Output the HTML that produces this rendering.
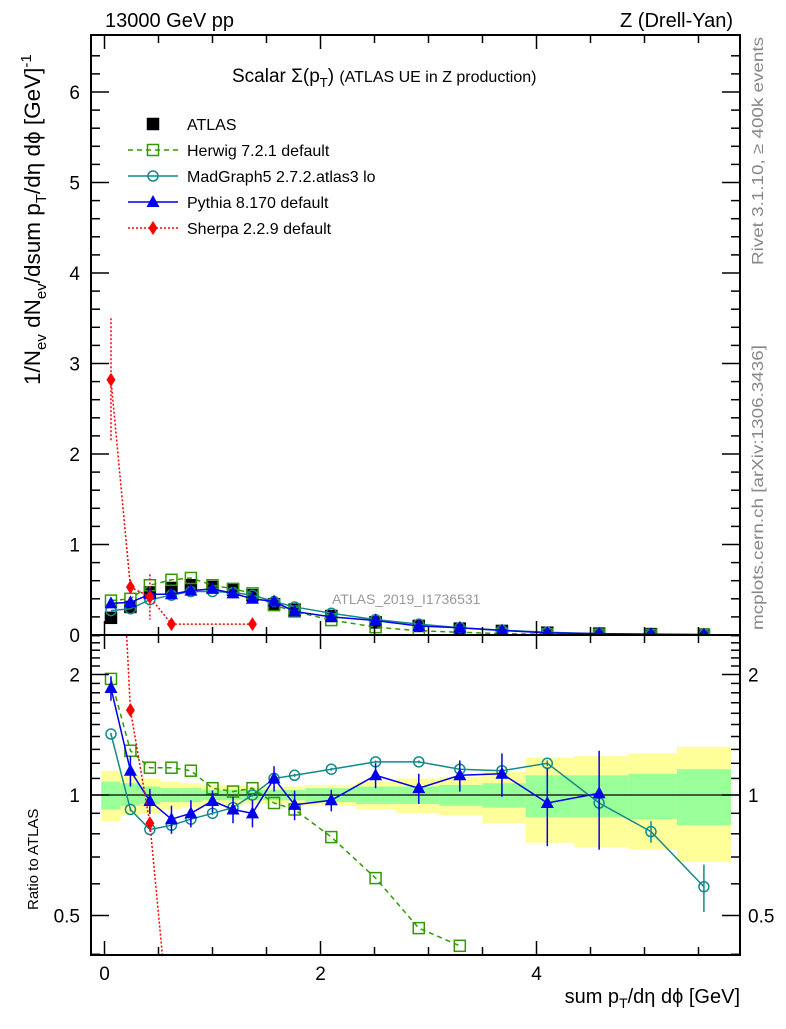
<!DOCTYPE html>
<html><head><meta charset="utf-8"><style>
body{margin:0;background:#fff;}
svg{font-family:"Liberation Sans",sans-serif;}
</style></head><body>
<svg id="chart" width="786" height="1024" viewBox="0 0 786 1024" xmlns="http://www.w3.org/2000/svg">
<text x="105" y="27" font-size="20">13000 GeV pp</text>
<text x="733" y="27" font-size="20" text-anchor="end">Z (Drell-Yan)</text>
<text transform="translate(763,265) rotate(-90)" font-size="16" fill="#888" textLength="228" lengthAdjust="spacingAndGlyphs">Rivet 3.1.10, ≥ 400k events</text>
<text transform="translate(763,630) rotate(-90)" font-size="16" fill="#888" textLength="285" lengthAdjust="spacingAndGlyphs">mcplots.cern.ch [arXiv:1306.3436]</text>
<text x="232" y="82" font-size="19">Scalar Σ(p<tspan font-size="13" dy="5">T</tspan><tspan dy="-5">) </tspan><tspan font-size="16">(ATLAS UE in Z production)</tspan></text>
<text x="332" y="604" font-size="14" fill="#999">ATLAS_2019_I1736531</text>
<text transform="translate(40,385) rotate(-90)" font-size="22.5">1/N<tspan font-size="15" dy="6">ev</tspan><tspan dy="-6"> dN</tspan><tspan font-size="15" dy="6">ev</tspan><tspan dy="-6">/dsum p</tspan><tspan font-size="15" dy="6">T</tspan><tspan dy="-6">/dη dϕ  [GeV]</tspan><tspan font-size="15" dy="-9">-1</tspan></text>
<text transform="translate(38,910) rotate(-90)" font-size="15">Ratio to ATLAS</text>
<text x="740" y="1003" font-size="20" text-anchor="end">sum p<tspan font-size="14" dy="5">T</tspan><tspan dy="-5">/dη dϕ [GeV]</tspan></text>
<defs>
<clipPath id="cm"><rect x="91" y="35" width="649" height="600"/></clipPath>
<clipPath id="cr"><rect x="91" y="635" width="649" height="320"/></clipPath>
</defs>
<g id="bands" clip-path="url(#cr)"></g>
<g id="main" clip-path="url(#cm)"></g>
<g id="ratio" clip-path="url(#cr)"></g>
<g id="axes"></g>
<g id="legend"></g>
</svg>
<script>
const xs=[0.06,0.24,0.42,0.62,0.80,1.0,1.19,1.37,1.57,1.76,2.1,2.51,2.91,3.29,3.68,4.1,4.58,5.06,5.55];
const atlas=[0.19,0.31,0.47,0.52,0.55,0.53,0.50,0.44,0.34,0.28,0.21,0.14,0.10,0.07,0.045,0.025,0.015,0.01,0.005];
const herwig=[0.38,0.40,0.55,0.61,0.63,0.55,0.51,0.46,0.33,0.26,0.165,0.087,0.047,0.03,0.015,0.008,0.004,0.002,0.001];
const madgraph=[0.27,0.29,0.39,0.44,0.48,0.48,0.47,0.44,0.37,0.31,0.24,0.17,0.12,0.08,0.052,0.03,0.014,0.008,0.003];
const pythia=[0.35,0.36,0.45,0.45,0.49,0.51,0.46,0.40,0.37,0.26,0.2,0.16,0.1,0.08,0.05,0.024,0.015,0.01,0.005];
const sherpaX=[0.06,0.24,0.42,0.62,1.37];
const sherpa=[2.82,0.53,0.42,0.12,0.12];
const sherpaErr=[0.68,0.08,0.25,0.02,0.02];
const herwigRatio=[1.95,1.29,1.17,1.17,1.15,1.04,1.02,1.04,0.955,0.92,0.785,0.62,0.465,0.42];
const madgraphRatio=[1.42,0.92,0.82,0.84,0.87,0.9,0.93,1.0,1.1,1.12,1.16,1.21,1.21,1.16,1.15,1.2,0.955,0.81,0.59];
const madgraphRatioErr=[0.01,0.01,0.01,0.01,0.01,0.01,0.01,0.01,0.01,0.01,0.01,0.01,0.01,0.01,0.01,0.02,0.04,0.05,0.08];
const pythiaRatio=[1.85,1.15,0.966,0.87,0.9,0.966,0.92,0.9,1.1,0.945,0.97,1.12,1.04,1.12,1.13,0.955,1.01,null,null];
const pythiaRatioErr=[0.13,0.1,0.07,0.07,0.07,0.06,0.07,0.07,0.08,0.08,0.06,0.08,0.09,0.1,0.14,0.21,0.28,0,0];
const sherpaRatio=[15,1.63,0.85,0.23,0.23];
const binEdges=[-0.03,0.15,0.33,0.52,0.71,0.9,1.09,1.28,1.47,1.66,1.86,2.33,2.7,3.1,3.5,3.9,4.35,4.85,5.3,5.8];
const yellowHi=[1.15,1.12,1.1,1.08,1.07,1.06,1.06,1.05,1.05,1.05,1.06,1.08,1.1,1.11,1.14,1.24,1.25,1.27,1.32];
const yellowLo=[0.86,0.89,0.9,0.92,0.93,0.94,0.94,0.95,0.95,0.95,0.94,0.92,0.9,0.89,0.85,0.76,0.74,0.73,0.68];
const greenHi=[1.08,1.07,1.05,1.04,1.04,1.03,1.03,1.03,1.03,1.03,1.04,1.05,1.05,1.06,1.07,1.12,1.12,1.13,1.16];
const greenLo=[0.92,0.94,0.95,0.96,0.96,0.97,0.97,0.97,0.97,0.97,0.96,0.95,0.95,0.94,0.93,0.88,0.88,0.87,0.84];
const xTicks=[0,2,4];
const yTicks=[0,1,2,3,4,5,6];
const rTicks=[0.5,1,2];

const NS='http://www.w3.org/2000/svg';
const X=v=>104.5+v*108;
const Y=v=>635-v*90.5;
const R=v=>795-Math.log2(v)*120.5;
function mk(par,tag,at){const e=document.createElementNS(NS,tag);for(const k in at)e.setAttribute(k,at[k]);document.getElementById(par).appendChild(e);return e;}

binEdges.slice(0,-1).forEach((e,i)=>{
  const b=mk('bands','rect',{x:X(e),y:R(yellowHi[i]),width:X(binEdges[i+1])-X(e),height:R(yellowLo[i])-R(yellowHi[i]),fill:'#ffff99'});
  
  
  const g=mk('bands','rect',{x:X(e),y:R(greenHi[i]),width:X(binEdges[i+1])-X(e),height:R(greenLo[i])-R(greenHi[i]),fill:'#99ff99'});
  
  
});
const one=mk('bands','line',{x1:91,x2:740,y1:R(1),y2:R(1),stroke:'#000','stroke-width':1.2});



function series(par,xv,yv,fy,color,dash,marker,name,err){
  const pts=[];xv.forEach((x,i)=>{if(yv[i]!=null)pts.push([X(x),fy(yv[i])]);});
  if(color!=='none'){const l=mk(par,'polyline',{points:pts.map(p=>p.join(',')).join(' '),fill:'none',stroke:color,'stroke-width':1.5,'stroke-dasharray':dash});
  
  }
  xv.forEach((x,i)=>{
    if(yv[i]==null)return;
    const cx=X(x),cy=fy(yv[i]);
    if(err&&err[i]){const e=mk(par,'line',{x1:cx,x2:cx,y1:fy(yv[i]+err[i]),y2:fy(Math.max(yv[i]-err[i],1e-3)),stroke:marker.c,'stroke-width':1.5,'stroke-dasharray':marker.edash||''});
      
      }
    let m;
    if(marker.t==='sq')m=mk(par,'rect',{x:cx-5.5,y:cy-5.5,width:11,height:11,fill:marker.fill,stroke:marker.c,'stroke-width':1.5});
    else if(marker.t==='circ')m=mk(par,'circle',{cx:cx,cy:cy,r:5,fill:'none',stroke:marker.c,'stroke-width':1.5});
    else if(marker.t==='tri')m=mk(par,'polygon',{points:`${cx},${cy-7} ${cx-6.5},${cy+5} ${cx+6.5},${cy+5}`,fill:marker.c});
    else m=mk(par,'polygon',{points:`${cx},${cy-7} ${cx-4.5},${cy} ${cx},${cy+7} ${cx+4.5},${cy}`,fill:marker.c});
    
    
  });
}
series('main',xs,atlas,Y,'none','',{t:'sq',c:'#000',fill:'#000'},'atlas');
series('main',xs,herwig,Y,'#339900','5,4',{t:'sq',c:'#339900',fill:'none'},'herwig');
series('main',xs,madgraph,Y,'#138a8a','',{t:'circ',c:'#138a8a'},'madgraph');
series('main',xs,pythia,Y,'#0000ee','',{t:'tri',c:'#0000ee'},'pythia');
series('main',sherpaX,sherpa,Y,'#ff0000','2,2',{t:'dia',c:'#ff0000',edash:'2,2'},'sherpa',sherpaErr);
series('ratio',xs.slice(0,herwigRatio.length),herwigRatio,R,'#339900','5,4',{t:'sq',c:'#339900',fill:'none'},'herwig-ratio');
series('ratio',xs,madgraphRatio,R,'#138a8a','',{t:'circ',c:'#138a8a'},'madgraph-ratio',madgraphRatioErr);
series('ratio',xs,pythiaRatio,R,'#0000ee','',{t:'tri',c:'#0000ee'},'pythia-ratio',pythiaRatioErr);
series('ratio',sherpaX,sherpaRatio,R,'#ff0000','2,2',{t:'dia',c:'#ff0000'},'sherpa-ratio');

[[35,600,'main-frame'],[635,320,'ratio-frame']].forEach(([y,h,n])=>{
  const f=mk('axes','rect',{x:91,y:y,width:649,height:h,fill:'none',stroke:'#000','stroke-width':2});
  
  
});
function tick(x1,y1,x2,y2){mk('axes','line',{x1,y1,x2,y2,stroke:'#000','stroke-width':1.5});}
for(let v=0;v<=5.8;v+=0.5){const px=X(v),maj=Math.abs(v-Math.round(v/2)*2)<1e-6,l=maj?14:8;
  tick(px,635,px,635-l);tick(px,35,px,35+l);tick(px,955,px,955-l);tick(px,635,px,635+l);}
xTicks.forEach(v=>{const t=mk('axes','text',{x:X(v),y:980,'font-size':19,'text-anchor':'middle'});t.textContent=v;
  
  });
for(let v=0;v<=6.6;v+=0.2){const py=Y(v),maj=Math.abs(v-Math.round(v))<1e-6,l=maj?18:9;tick(91,py,91+l,py);tick(740,py,740-l,py);}
yTicks.forEach(v=>{const t=mk('axes','text',{x:80,y:Y(v)+7,'font-size':19,'text-anchor':'end'});t.textContent=v;
  
  });
[0.4,0.5,0.6,0.7,0.8,0.9,1,1.1,1.2,1.3,1.4,1.5,1.6,1.7,1.8,1.9,2,2.1,2.2,2.3,2.4,2.5].forEach(v=>{
  const py=R(v),maj=rTicks.includes(v),l=maj?18:9;tick(91,py,91+l,py);tick(740,py,740-l,py);});
rTicks.forEach(v=>{
  const a=mk('axes','text',{x:80,y:R(v)+7,'font-size':19,'text-anchor':'end'});a.textContent=v;
  
  
  const b=mk('axes','text',{x:748,y:R(v)+7,'font-size':19});b.textContent=v;
  
  });

const legNames=['ATLAS','Herwig 7.2.1 default','MadGraph5 2.7.2.atlas3 lo','Pythia 8.170 default','Sherpa 2.2.9 default'];
const legStyle=[{c:'none',d:'',m:{t:'sq',c:'#000',fill:'#000'}},{c:'#339900',d:'5,4',m:{t:'sq',c:'#339900',fill:'none'}},{c:'#138a8a',d:'',m:{t:'circ',c:'#138a8a'}},{c:'#0000ee',d:'',m:{t:'tri',c:'#0000ee'}},{c:'#ff0000',d:'2,2',m:{t:'dia',c:'#ff0000'}}];
legNames.forEach((n,i)=>{
  const y=124+i*26;
  if(legStyle[i].c!=='none'){const l=mk('legend','line',{x1:128,x2:178,y1:y,y2:y,stroke:legStyle[i].c,'stroke-width':1.5,'stroke-dasharray':legStyle[i].d});
    
    }
  const m=legStyle[i].m;let e;
  if(m.t==='sq')e=mk('legend','rect',{x:147.5,y:y-5.5,width:11,height:11,fill:m.fill,stroke:m.c,'stroke-width':1.5});
  else if(m.t==='circ')e=mk('legend','circle',{cx:153,cy:y,r:5,fill:'none',stroke:m.c,'stroke-width':1.5});
  else if(m.t==='tri')e=mk('legend','polygon',{points:`153,${y-7} 146.5,${y+5} 159.5,${y+5}`,fill:m.c});
  else e=mk('legend','polygon',{points:`153,${y-7} 148.5,${y} 153,${y+7} 157.5,${y}`,fill:m.c});
  
  
  const t=mk('legend','text',{x:187,y:y+6,'font-size':16});t.textContent=n;
  
  
});
</script>
</body></html>
